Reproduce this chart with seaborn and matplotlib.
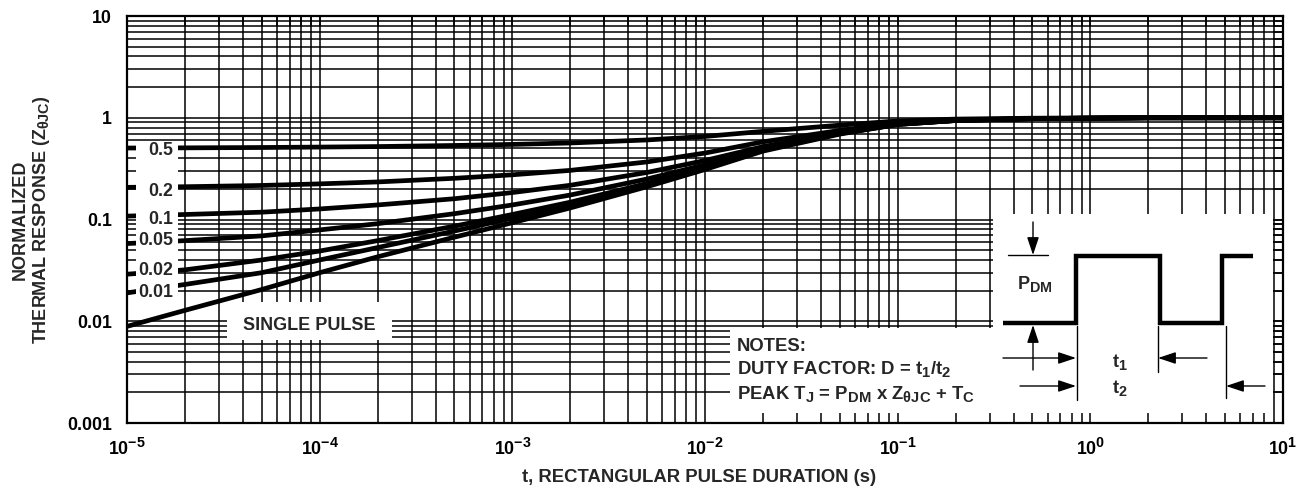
import numpy as np
import pandas as pd
import matplotlib
matplotlib.use("Agg")
import matplotlib.pyplot as plt
import seaborn as sns
from matplotlib.ticker import FixedLocator, FixedFormatter, LogLocator, NullFormatter
from matplotlib.patches import Rectangle
from matplotlib.transforms import IdentityTransform
try:
    import matplotlib._mathtext as _mt
    _mt.SHRINK_FACTOR = 0.8
except Exception:
    pass

# ---------------- data ----------------
t_values = [1e-5, 2e-5, 5e-5, 1e-4, 2e-4, 5e-4, 1e-3, 2e-3, 5e-3, 1e-2,
            2e-2, 5e-2, 1e-1, 2e-1, 5e-1, 1, 2, 5, 10]
z_d05 = [0.504, 0.506, 0.510, 0.515, 0.521, 0.534, 0.547, 0.565, 0.605, 0.655,
         0.735, 0.845, 0.93, 0.97, 0.99, 0.995, 1.0, 1.0, 1.0]
z_d02 = [0.207, 0.210, 0.216, 0.224, 0.234, 0.254, 0.275, 0.304, 0.368, 0.45,
         0.58, 0.75, 0.89, 0.95, 0.985, 0.99, 1.0, 1.0, 1.0]
z_d01 = [0.108, 0.112, 0.118, 0.127, 0.139, 0.160, 0.184, 0.217, 0.29, 0.38,
         0.52, 0.72, 0.87, 0.945, 0.98, 0.99, 1.0, 1.0, 1.0]
z_d005 = [0.058, 0.062, 0.069, 0.079, 0.091, 0.114, 0.139, 0.174, 0.25, 0.345,
          0.50, 0.71, 0.87, 0.94, 0.98, 0.99, 1.0, 1.0, 1.0]
z_d002 = [0.029, 0.032, 0.040, 0.049, 0.062, 0.086, 0.112, 0.148, 0.226, 0.325,
          0.48, 0.70, 0.86, 0.94, 0.98, 0.99, 1.0, 1.0, 1.0]
z_d001 = [0.019, 0.023, 0.030, 0.040, 0.053, 0.077, 0.103, 0.14, 0.22, 0.32,
          0.48, 0.70, 0.86, 0.94, 0.98, 0.99, 1.0, 1.0, 1.0]
z_single = [0.0089, 0.0128, 0.0205, 0.030, 0.043, 0.067, 0.093, 0.13, 0.21, 0.31,
            0.47, 0.69, 0.86, 0.94, 0.98, 0.99, 1.0, 1.0, 1.0]

curve_names = ["0.5", "0.2", "0.1", "0.05", "0.02", "0.01", "SINGLE PULSE"]
curve_values = [z_d05, z_d02, z_d01, z_d005, z_d002, z_d001, z_single]

y_tick_values = [0.001, 0.01, 0.1, 1, 10]
y_tick_labels = ["0.001", "0.01", "0.1", "1", "10"]
x_tick_values = [1e-5, 1e-4, 1e-3, 1e-2, 1e-1, 1, 10]
x_tick_labels = [r"$\mathbf{10^{-5}}$", r"$\mathbf{10^{-4}}$", r"$\mathbf{10^{-3}}$",
                 r"$\mathbf{10^{-2}}$", r"$\mathbf{10^{-1}}$", r"$\mathbf{10^{0}}$",
                 r"$\mathbf{10^{1}}$"]

x_label = "t, RECTANGULAR PULSE DURATION (s)"
y_label_1 = "NORMALIZED"
y_label_2 = r"THERMAL RESPONSE (Z$_{\mathbf{θJC}}$)"
notes_lines = ["NOTES:",
               r"DUTY FACTOR: D = t$_{\mathbf{1}}$/t$_{\mathbf{2}}$",
               r"PEAK T$_{\mathbf{J}}$ = P$_{\mathbf{DM}}$ x Z$_{\mathbf{θJC}}$ + T$_{\mathbf{C}}$"]

df = pd.DataFrame({
    "t": np.tile(t_values, len(curve_names)),
    "z": np.concatenate(curve_values),
    "curve": np.repeat(curve_names, len(t_values)),
})

# ---------------- style ----------------
sns.set_style("white")
plt.rcParams["font.family"] = ["Liberation Sans", "DejaVu Sans"]
plt.rcParams["font.weight"] = "bold"
plt.rcParams["mathtext.fontset"] = "custom"
plt.rcParams["mathtext.rm"] = "Liberation Sans:bold"
plt.rcParams["mathtext.bf"] = "Liberation Sans:bold"
plt.rcParams["mathtext.it"] = "Liberation Sans:bold"

W, H = 1304, 494
fig = plt.figure(figsize=(W / 100, H / 100), dpi=100)
fig.patch.set_facecolor("white")
ax = fig.add_axes([127 / W, 1 - 423 / H, 1156 / W, 407 / H])

sns.lineplot(data=df, x="t", y="z", hue="curve", hue_order=curve_names,
             palette={n: "black" for n in curve_names}, estimator=None,
             sort=False, linewidth=3.4, legend=False, ax=ax, zorder=2)
for ln in ax.lines:
    ln.set_solid_capstyle("butt")

ax.set_xscale("log")
ax.set_yscale("log")
ax.set_xlim(1e-5, 10)
ax.set_ylim(1e-3, 10)
ax.set_axisbelow(True)

ax.xaxis.set_major_locator(FixedLocator(x_tick_values))
ax.xaxis.set_major_formatter(FixedFormatter(x_tick_labels))
ax.yaxis.set_major_locator(FixedLocator(y_tick_values))
ax.yaxis.set_major_formatter(FixedFormatter(y_tick_labels))
for a in (ax.xaxis, ax.yaxis):
    a.set_minor_locator(LogLocator(base=10, subs=np.arange(2, 10), numticks=30))
    a.set_minor_formatter(NullFormatter())

ax.grid(which="both", color="black", linewidth=1.1)
ax.tick_params(which="both", direction="in", length=7.5, width=1.1,
               top=True, right=True, colors="black")
ax.tick_params(axis="y", which="major", pad=11, labelsize=12.8)
ax.tick_params(axis="x", which="major", pad=10.5, labelsize=12.8)
for lab in ax.get_yticklabels():
    lab.set_fontweight("bold")
for sp in ax.spines.values():
    sp.set_color("black")
    sp.set_linewidth(1.6)
ax.set_xlabel("")
ax.set_ylabel("")

# ---------------- white label boxes (pixel geometry) ----------------
def white_box(x0, y0, x1, y1, z):
    ax.add_patch(Rectangle((x0, H - y1), x1 - x0, y1 - y0, transform=IdentityTransform(),
                           facecolor="white", edgecolor="none", zorder=z))

white_box(136, 142, 178, 300, 3)      # D labels column
white_box(227, 302, 392, 340, 1)      # SINGLE PULSE
white_box(730, 328, 993, 413, 1)      # notes
white_box(993, 214, 1273, 413, 1)     # pulse diagram

def ptext(x, y, s, **kw):
    kw.setdefault("fontweight", "bold")
    fig.text(x, H - y, s, transform=IdentityTransform(), **kw)

d_label_y = [150, 191, 219, 240, 270, 292]
for name, yy in zip(curve_names[:6], d_label_y):
    ptext(173, yy, name, ha="right", va="center", fontsize=12.8, zorder=6)
ptext(309, 325, curve_names[6], ha="center", va="center", fontsize=13)

ptext(699, 477, x_label, ha="center", va="center", fontsize=13.3)
ptext(20, 220, y_label_1, ha="center", va="center", rotation=90, fontsize=13)
ptext(42, 220, y_label_2, ha="center", va="center", rotation=90, fontsize=13)

for s, yy in zip(notes_lines, [346, 369, 394]):
    ptext(737, yy, s, ha="left", va="center", fontsize=13.3)

# ---------------- pulse diagram overlay ----------------
axd = fig.add_axes([0, 0, 1, 1], zorder=5)
axd.set_xlim(0, W)
axd.set_ylim(H, 0)
axd.axis("off")
axd.patch.set_alpha(0)

axd.plot([1003, 1076, 1076, 1160, 1160, 1222, 1222, 1253],
         [323, 323, 256, 256, 323, 323, 256, 256],
         color="black", lw=3.2, solid_joinstyle="miter", solid_capstyle="butt")
thin = dict(color="black", lw=1.0)
axd.plot([1008, 1048], [255, 255], **thin)
axd.plot([1077, 1077], [326, 400], **thin)
axd.plot([1158, 1158], [326, 372], **thin)
axd.plot([1226, 1226], [326, 398], **thin)

def arrow(x0, y0, x1, y1):
    axd.annotate("", xy=(x1, y1), xytext=(x0, y0),
                 arrowprops=dict(arrowstyle="-|>,head_length=0.9,head_width=0.3",
                                 color="black", lw=1.0, shrinkA=0, shrinkB=0,
                                 mutation_scale=12))

arrow(1033, 222, 1033, 255)
arrow(1033, 370, 1033, 325)
arrow(1003, 358, 1076, 358)
arrow(1207, 358, 1158, 358)
arrow(1020, 386, 1076, 386)
arrow(1265, 386, 1226, 386)

axd.text(1035, 284, r"P$_{\mathbf{DM}}$", ha="center", va="center", fontsize=13, fontweight="bold")
axd.text(1120, 362, r"t$_{\mathbf{1}}$", ha="center", va="center", fontsize=13, fontweight="bold")
axd.text(1120, 388, r"t$_{\mathbf{2}}$", ha="center", va="center", fontsize=13, fontweight="bold")

fig.savefig("out.png", dpi=100, facecolor="white")
